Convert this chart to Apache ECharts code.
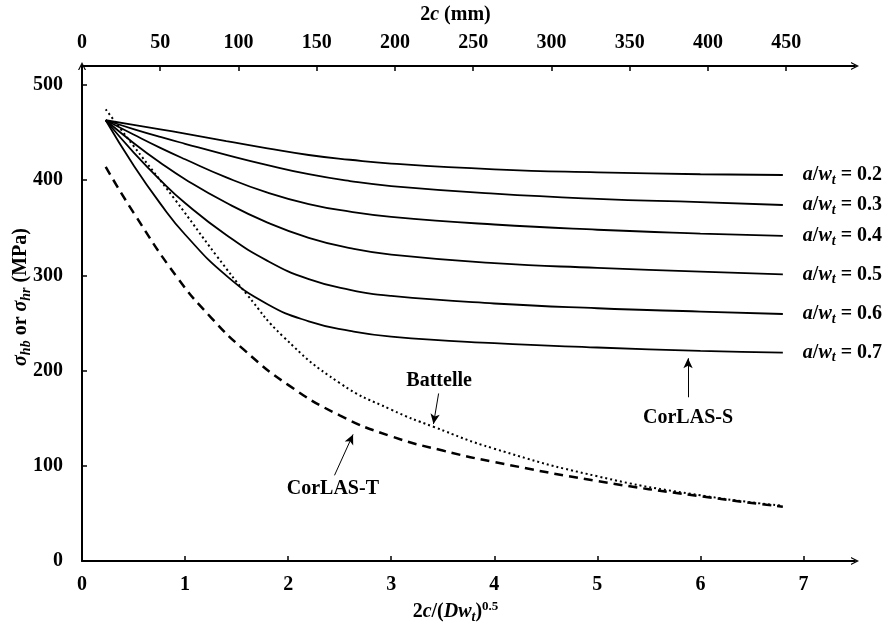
<!DOCTYPE html>
<html><head><meta charset="utf-8">
<script src="https://cdn.jsdelivr.net/npm/echarts@6/dist/echarts.min.js"></script>
<style>html,body{margin:0;padding:0;background:#fff}#c{width:890px;height:629px}</style>
</head><body><div id="c"></div>
<script>
// ---- data ----
const xTickLabels = [0, 1, 2, 3, 4, 5, 6, 7];
const topTickLabels = [0, 50, 100, 150, 200, 250, 300, 350, 400, 450];
const yTickLabels = [0, 100, 200, 300, 400, 500];

const corlasSX = [0.23, 0.5, 0.76, 1.0, 1.4, 1.8, 2.2, 2.6, 3.0, 4.0, 5.0, 6.0, 6.8];
const corlasS02 = [463, 458.2, 453.5, 449, 441.2, 433.5, 426.5, 421.5, 417.5, 411.5, 408.3, 406.3, 405.5];
const corlasS03 = [463, 453.8, 445.5, 438.3, 426.7, 415.9, 406.3, 399.1, 393.9, 385.9, 380.4, 376.9, 374];
const corlasS04 = [463, 448, 434, 422, 403, 387, 375, 367, 361.5, 353.5, 348, 344, 341.5];
const corlasS05 = [463, 439.2, 418.4, 401.1, 376.3, 355.5, 339.5, 328.7, 321.9, 312.9, 307.9, 303.9, 301];
const corlasS06 = [463, 429.3, 400.1, 376.1, 342.5, 315.3, 296.1, 284.9, 278.5, 270.5, 265.5, 262, 259.5];
const corlasS07 = [463, 415.7, 375.4, 343, 299.8, 269.8, 251.8, 241.8, 235.8, 228.8, 224.3, 220.8, 219];
const ratioLabels = ['0.2', '0.3', '0.4', '0.5', '0.6', '0.7'];

const battelleX = [0.23, 0.5, 0.9, 1.31, 1.6, 1.95, 2.5, 3.0, 3.41, 4.0, 5.0, 6.0, 6.8];
const battelleY = [474.5, 436, 380, 320, 280, 236, 187, 159, 141, 118, 89, 69, 58];

const corlasTX = [0.23, 0.5, 0.93, 1.25, 1.57, 2.0, 2.5, 3.0, 3.5, 4.0, 5.0, 6.0, 6.8];
const corlasTY = [414, 366, 297, 256, 222, 185, 153, 131, 116, 104, 84, 68, 57];

// annotation arrows: [label, from(x,y), to(x,y)] in data units
const annBattelle = ['Battelle', [3.46, 176], [3.41, 144]];
const annCorlasT = ['CorLAS-T', [2.45, 90], [2.63, 133]];
const annCorlasS = ['CorLAS-S', [5.88, 172], [5.88, 213]];

// ---- chart ----
const FONT = 'Liberation Serif';
const FS = 20;
const CHEV = 'path://M5,0 L10,10 L8.4,10 L5,3.2 L1.6,10 L0,10 Z';
const zip = (xs, ys) => xs.map((x, i) => [x, ys[i]]);
const baseRich = (fs) => ({
  b: {fontFamily: FONT, fontWeight: 'bold', fontSize: fs, color: '#000', lineHeight: 24},
  i: {fontFamily: FONT, fontWeight: 'bold', fontStyle: 'italic', fontSize: fs, color: '#000', lineHeight: 24},
  sub: {fontFamily: FONT, fontWeight: 'bold', fontStyle: 'italic', fontSize: Math.round(fs * 0.68), color: '#000', lineHeight: 14, verticalAlign: 'bottom'},
  sup: {fontFamily: FONT, fontWeight: 'bold', fontSize: Math.round(fs * 0.66), color: '#000', lineHeight: 14, verticalAlign: 'top'}
});
const axisCommon = {
  type: 'value',
  splitLine: {show: false},
  axisLine: {show: true, onZero: false, lineStyle: {color: '#000', width: 2}, symbolSize: [13, 8]},
  axisTick: {show: true, inside: true, length: 5, lineStyle: {color: '#000', width: 1.5}},
  axisLabel: {color: '#000', fontFamily: FONT, fontWeight: 'bold', fontSize: FS}
};
function mkAxis(extra) {
  const a = JSON.parse(JSON.stringify(axisCommon));
  Object.keys(extra).forEach(k => {
    if (typeof extra[k] === 'object' && !Array.isArray(extra[k]) && a[k]) Object.assign(a[k], extra[k]);
    else a[k] = extra[k];
  });
  a.axisLine.symbol = ['none', CHEV];
  return a;
}
function arrowMark(ann, dist) {
  return {
    silent: true, symbol: ['none', 'arrow'], symbolSize: [7, 10],
    lineStyle: {color: '#000', width: 1, type: 'solid'},
    label: {show: true, position: 'start', formatter: ann[0], color: '#000', fontFamily: FONT, fontWeight: 'bold', fontSize: FS, distance: dist},
    data: [[{coord: ann[1]}, {coord: ann[2]}]]
  };
}

const sSeries = [corlasS02, corlasS03, corlasS04, corlasS05, corlasS06, corlasS07];
const series = sSeries.map((ys, k) => ({
  type: 'line', name: 'a/wt = ' + ratioLabels[k], data: zip(corlasSX, ys),
  showSymbol: false, symbol: 'none', smooth: 0.5,
  lineStyle: {color: '#000', width: 1.8},
  endLabel: {show: true, distance: 20, formatter: '{i|a}{b|/}{i|w}{sub|t}{b| = ' + ratioLabels[k] + '}', rich: baseRich(FS)},
  markLine: k === 5 ? arrowMark(annCorlasS, 11) : undefined
}));
series.push({
  type: 'line', name: 'Battelle', data: zip(battelleX, battelleY),
  showSymbol: false, symbol: 'none', smooth: 0.5,
  lineStyle: {color: '#000', width: 2, type: [2, 3]},
  markLine: arrowMark(annBattelle, 3)
});
series.push({
  type: 'line', name: 'CorLAS-T', data: zip(corlasTX, corlasTY),
  showSymbol: false, symbol: 'none', smooth: 0.5,
  lineStyle: {color: '#000', width: 2.5, type: [9, 6]},
  markLine: arrowMark(annCorlasT, 4)
});

const chart = echarts.init(document.getElementById('c'), null, {renderer: 'canvas'});
chart.setOption({
  animation: false,
  backgroundColor: '#fff',
  grid: {left: 82, top: 66, right: 35, bottom: 68, containLabel: false, outerBoundsMode: 'none'},
  xAxis: [
    mkAxis({
      position: 'bottom', min: 0, max: 7.5,
      axisTick: {customValues: xTickLabels},
      axisLabel: {customValues: xTickLabels, margin: 14},
      name: '{b|2}{i|c}{b|/(}{i|Dw}{sub|t}{b|)}{sup|0.5}', nameLocation: 'middle', nameGap: 37,
      nameTextStyle: {rich: baseRich(FS), padding: [0, 26, 0, 0]}
    }),
    mkAxis({
      position: 'top', min: 0, max: 494,
      axisTick: {customValues: topTickLabels},
      axisLabel: {customValues: topTickLabels, margin: 13},
      name: '{b|2}{i|c}{b| (mm)}', nameLocation: 'middle', nameGap: 39,
      nameTextStyle: {rich: baseRich(FS), padding: [0, 26, 0, 0]}
    })
  ],
  yAxis: [
    mkAxis({
      position: 'left', min: 0, max: 520,
      axisTick: {customValues: yTickLabels},
      axisLabel: {customValues: yTickLabels, margin: 19}
    })
  ],
  graphic: [{
    type: 'text', x: 21, y: 297, rotation: Math.PI / 2,
    style: {
      text: '{i|σ}{sub|hb}{b| or }{i|σ}{sub|hr}{b| (MPa)}',
      align: 'center', verticalAlign: 'middle',
      rich: baseRich(FS)
    }
  }],
  series: series
});
</script></body></html>
